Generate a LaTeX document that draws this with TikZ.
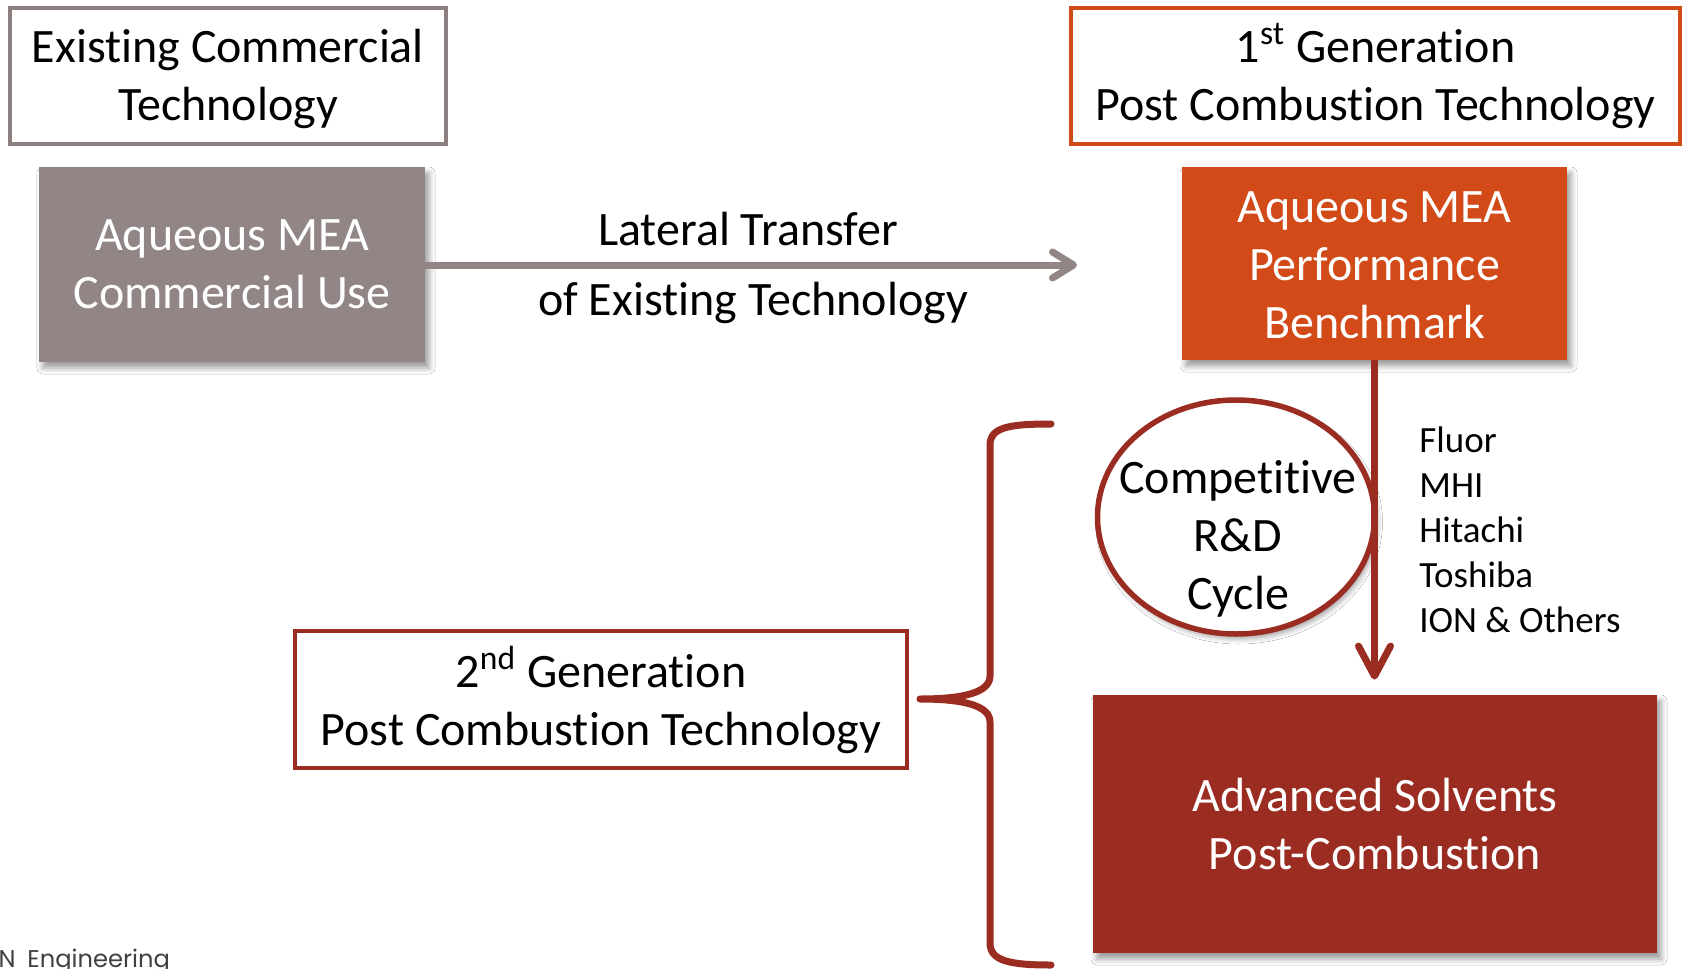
\documentclass[tikz,border=0pt]{standalone}
\usepackage{fontspec}
\setmainfont{Carlito}[Ligatures=NoCommon]
\newfontfamily\logofont{Poppins}
\usetikzlibrary{arrows.meta,shapes.geometric,shadows.blur}

\definecolor{mauve}{RGB}{145,133,133}
\definecolor{mauveline}{RGB}{142,128,128}
\definecolor{rust}{RGB}{209,74,24}
\definecolor{deepred}{RGB}{155,44,33}

% lower a line of text inside a node without changing the node's size
\newcommand\dropline[2]{\raisebox{-#1}[\height][\depth]{#2}}

\tikzset{
  big/.style={font=\fontsize{24}{29}\selectfont, align=center},
  small/.style={font=\fontsize{18.5}{22.5}\selectfont, align=left},
  outlinebox/.style={big, draw, line width=1.6pt, fill=white, inner sep=0pt},
  solidbox/.style={big, inner sep=0pt, text=white,
    blur shadow={shadow xshift=2pt, shadow yshift=-3pt,
                 shadow blur radius=3pt, shadow opacity=40}},
  grayarrow/.style={draw=mauve, line width=3.5pt,
    -{Straight Barb[length=10.5pt, width=13pt, round]}},
  redarrow/.style={draw=deepred, line width=3.5pt,
    -{Straight Barb[length=15pt, width=16pt, round]}},
}

\begin{document}
\begin{tikzpicture}[x=0.5pt, y=-0.5pt]
  \useasboundingbox (0,0) rectangle (1682,969);
  \fill[white] (0,0) rectangle (1682,969);

  % left column: existing technology
  \node[outlinebox, draw=mauveline, minimum width=218pt, minimum height=68pt]
    (existing) at (228,76)
    {\dropline{1.6pt}{Existing Commercial}\\\dropline{1.6pt}{Technology}};
  \node[solidbox, fill=mauve, minimum width=193pt, minimum height=97.5pt]
    (mea) at (232,264.5) {Aqueous MEA\\Commercial Use};

  % right column: first generation
  \node[outlinebox, draw=rust, minimum width=304.5pt, minimum height=68pt]
    (first) at (1375.5,76) {1\textsuperscript{st} Generation\\Post Combustion Technology};
  \node[solidbox, fill=rust, minimum width=192.5pt, minimum height=96.5pt]
    (bench) at (1374.5,263.5)
    {\dropline{1.1pt}{Aqueous MEA}\\\dropline{1.1pt}{Performance}\\\dropline{1.1pt}{Benchmark}};

  % lateral transfer arrow
  \coordinate (lattip) at (1077,265);
  \draw[grayarrow] (mea.east |- lattip) -- (lattip);
  \node[big] (lat1) at (748,229) {Lateral Transfer};
  \node[big] (lat2) at (753,303) {of Existing Technology};

  % competitive R&D cycle
  \node[ellipse, draw=deepred, fill=white, line width=2.75pt,
        minimum width=138.5pt, minimum height=117pt,
        blur shadow={shadow xshift=1.5pt, shadow yshift=-2.5pt,
                     shadow blur radius=2.5pt, shadow opacity=35}]
    (cycle) at (1236,517) {};
  \node[big] (cycletext) at (1238,539) {Competitive\\R\&D\\Cycle};

  % advanced solvents
  \node[solidbox, fill=deepred, minimum width=282pt, minimum height=129pt]
    (adv) at (1375,824) {Advanced Solvents\\Post-Combustion};

  \draw[redarrow, shorten >=7.5pt] (bench.south) -- (adv.north -| bench.south);

  \node[small, anchor=west, inner sep=0pt] (firms) at (1419,530)
    {Fluor\\MHI\\Hitachi\\Toshiba\\ION \& Others};

  % second generation
  \node[outlinebox, draw=deepred, minimum width=306pt, minimum height=68.5pt]
    (second) at (601,699.5) {2\textsuperscript{nd} Generation\\Post Combustion Technology};

  % curly brace grouping the R&D cycle and advanced solvents
  \coordinate (bracetop) at (1051,424);
  \coordinate (bracetip) at (920,699);
  \coordinate (bracebot) at (1051,965);
  \draw[deepred, line width=3.5pt, line cap=round, line join=round]
    (bracetop) .. controls (1010,424) and (990,427) .. (990,445)
    -- (990,676) .. controls (990,692) and (965,699) .. (bracetip)
    .. controls (965,699) and (990,706) .. (990,722)
    -- (990,943) .. controls (990,961) and (1010,965) .. (bracebot);

  % footer logo text, running off the lower left corner
  \node[font=\logofont\fontsize{12.1}{14}\selectfont, text=black!75,
        anchor=base east, inner sep=0pt] (logoN) at (16,967) {N};
  \node[font=\logofont\fontsize{12.1}{14}\selectfont, text=black!75,
        anchor=base west, inner sep=0pt] (logo) at (27,967) {Engineering};
\end{tikzpicture}
\end{document}
